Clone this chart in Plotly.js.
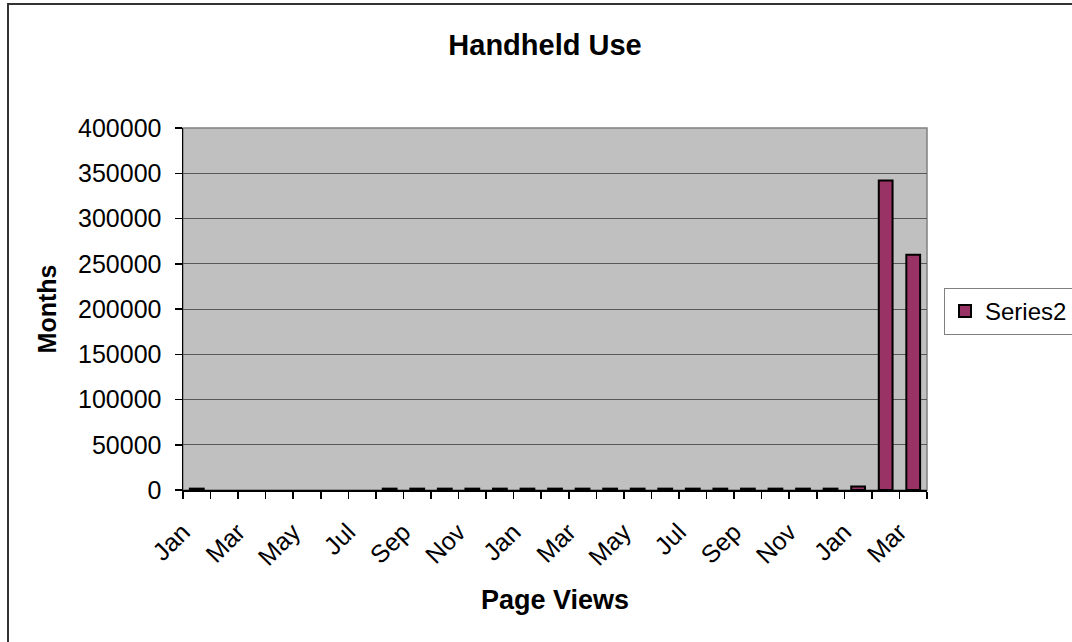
<!DOCTYPE html>
<html>
<head>
<meta charset="utf-8">
<script src="https://cdn.plot.ly/plotly-3.0.1.min.js"></script>
<style>html,body{margin:0;padding:0;background:#fff;}#chart{width:1072px;height:642px;}</style>
</head>
<body>
<div id="chart"></div>
<script>
// 27 monthly categories: Jan (yr1) ... Mar (yr3)
const months = ["Jan","Feb","Mar","Apr","May","Jun","Jul","Aug","Sep","Oct","Nov","Dec",
                "Jan","Feb","Mar","Apr","May","Jun","Jul","Aug","Sep","Oct","Nov","Dec",
                "Jan","Feb","Mar"];
const seriesName = "Series2";
const series2 = [1500,null,null,null,null,null,null,1500,1500,1500,1500,1500,
                 1500,1500,1500,1500,1500,1500,1500,1500,1500,1500,1500,1500,
                 4000,342000,260000];
const yTicks = [0,50000,100000,150000,200000,250000,300000,350000,400000];

const xIdx = months.map((m,i)=>i);
const tickVals = xIdx.filter(i=>i%2===0);
const tickText = tickVals.map(i=>months[i]);

const FONT = "Liberation Sans, Arial, sans-serif";

const trace = {
  type: "bar",
  x: xIdx,
  y: series2,
  name: seriesName,
  marker: {color: "#993366", line: {color: "#000000", width: 2}},
  showlegend: true
};

// plot area in pixels: x 183..927, y 128..490
const W=1072, H=642;
const L=183, R=927, T=128, B=490;
const px = x => (x-L)/(R-L);
const py = y => (B-y)/(B-T);

const layout = {
  width: W, height: H,
  margin: {l: L, r: W-R, t: T, b: H-B},
  paper_bgcolor: "#ffffff",
  plot_bgcolor: "#c0c0c0",
  font: {family: FONT, color: "#000", size: 25},
  title: {text: "<b>Handheld Use</b>", font: {family: FONT, size: 29, color: "#000"},
          xref: "container", x: 545/W, xanchor: "center", yref: "container", y: 1-45/H, yanchor: "middle"},
  bargap: 0.5,
  showlegend: true,
  legend: {xref: "container", yref: "container", x: 944/W, y: 1-288/H, xanchor: "left", yanchor: "top",
           bordercolor: "#808080", borderwidth: 1, bgcolor: "#fff",
           font: {family: FONT, size: 24}, itemwidth: 30},
  xaxis: {
    range: [-0.5, months.length-0.5],
    tickmode: "array", tickvals: tickVals, ticktext: tickText,
    tickangle: -45, ticks: "", showgrid: false, zeroline: false,
    ticklabelstandoff: 16, ticklabelshift: -14,
    showline: true, linecolor: "#000", linewidth: 1.5,
    tickfont: {family: FONT, size: 25},
    minor: {tickmode: "linear", tick0: -0.5, dtick: 1, ticks: "outside", ticklen: 7, tickcolor: "#000", tickwidth: 1.5, showgrid: false},
    title: {text: "<b>Page Views</b>", font: {family: FONT, size: 27}, standoff: 20},
    fixedrange: true
  },
  yaxis: {
    range: [0, 400000],
    tickmode: "array", tickvals: yTicks, ticktext: yTicks.map(String),
    ticks: "outside", ticklen: 7, tickcolor: "#000", tickwidth: 1.5,
    ticklabelstandoff: 8,
    showline: true, linecolor: "#000", linewidth: 1.5,
    showgrid: true, gridcolor: "#585858", gridwidth: 1,
    zeroline: false,
    tickfont: {family: FONT, size: 25},
    title: {text: "<b>Months</b>", font: {family: FONT, size: 25}, standoff: 14},
    fixedrange: true
  },
  shapes: [
    {type: "rect", xref: "paper", yref: "paper", x0: 0, x1: 1, y0: 0, y1: 1,
     line: {color: "#808080", width: 1.5}, fillcolor: "rgba(0,0,0,0)", layer: "below"},
    {type: "rect", xref: "paper", yref: "paper", x0: px(8), x1: px(1090), y0: py(4), y1: py(660),
     line: {color: "#333333", width: 2}, fillcolor: "rgba(0,0,0,0)"}
  ]
};

Plotly.newPlot("chart", [trace], layout, {displayModeBar: false, staticPlot: true});
</script>
</body>
</html>
